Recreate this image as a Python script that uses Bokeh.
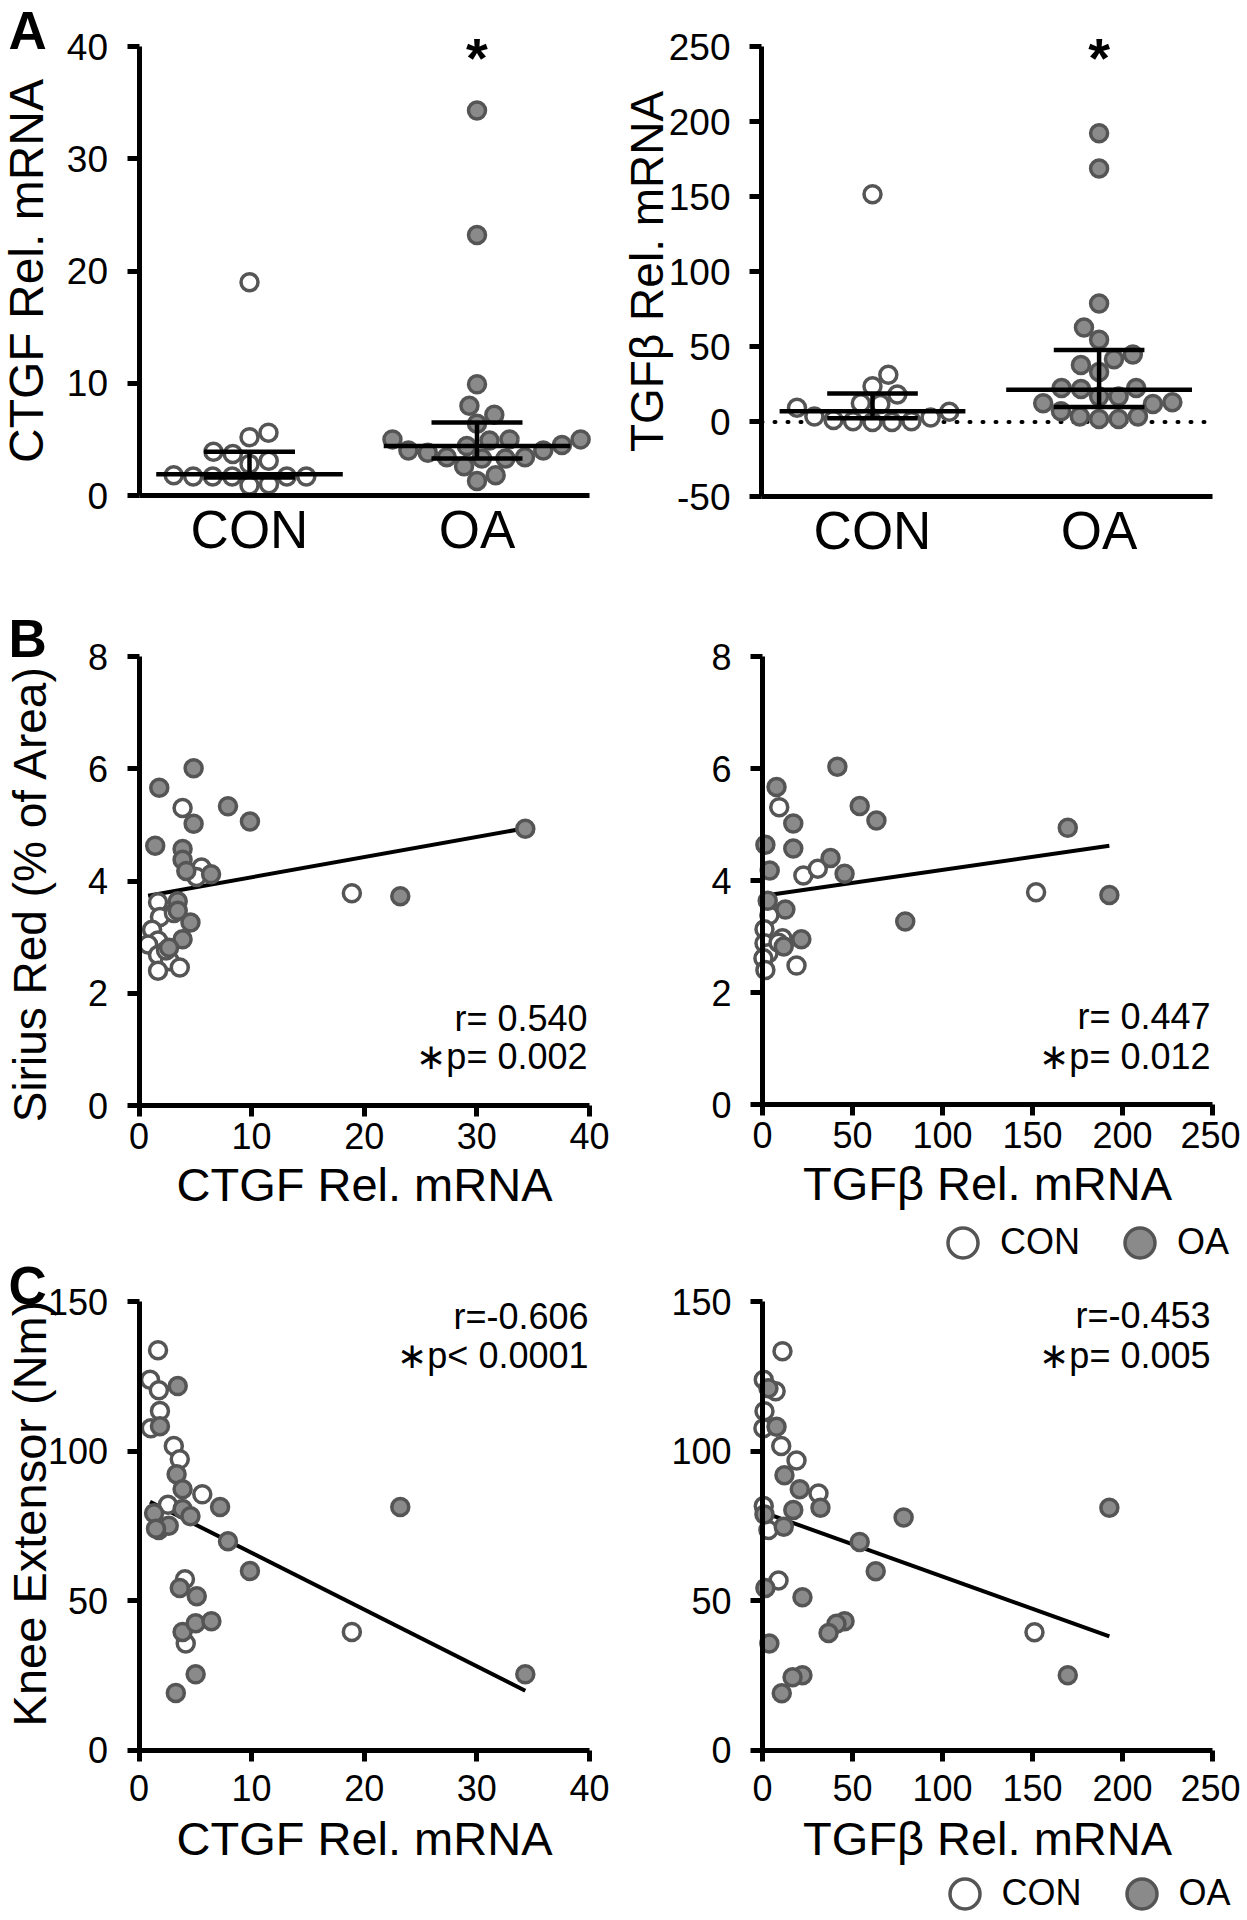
import numpy as np
from bokeh.plotting import figure
from bokeh.models import Range1d, FixedTicker, Label, Legend, LegendItem, LinearAxis
from bokeh.layouts import column, row
from bokeh.embed import file_html
from bokeh.resources import INLINE

# ---------------- data ----------------
categories = ["CON", "OA"]

# Panel A: relative mRNA per subject
con_ctgf = [2.8, 1.7, 1.7, 1.7, 5.6, 3.9, 0.9, 1.0, 3.7, 1.7, 5.2, 1.7, 1.8, 3.1, 19.0]
oa_ctgf = [34.3, 23.2, 9.9, 8.0, 7.2, 6.4, 5.0, 4.9, 5.0, 5.0, 4.5, 4.4, 4.0, 3.8, 4.0,
           3.4, 3.3, 3.3, 3.4, 2.6, 1.8, 1.3]
con_tgfb = [151.7, 31.4, 23.8, 18.3, 12.4, 11.9, 9.5, 6.7, 2.9, 0.5, 0.0, 0.0, 0.5, 1.2, 3.6]
oa_tgfb = [192.4, 169.0, 79.0, 63.0, 54.8, 45.0, 41.7, 33.3, 38.0, 22.6, 21.9, 22.6, 17.0,
           17.0, 12.4, 13.1, 11.9, 7.1, 3.6, 1.9, 1.9, 3.6]
# median and interquartile range, [CON, OA]
ctgf_median = [1.9, 4.4]
ctgf_q1 = [1.6, 3.3]
ctgf_q3 = [3.9, 6.5]
tgfb_median = [7.1, 21.4]
tgfb_q1 = [2.5, 10.0]
tgfb_q3 = [19.0, 48.0]

# Panel B: Sirius Red (% of area) vs mRNA
b1_con_x = [3.87, 5.55, 5.1, 1.69, 1.86, 1.16, 1.69, 0.81, 1.69, 2.74, 3.62, 1.69, 18.9, 3.1, 2.4]
b1_con_y = [5.30, 4.24, 4.07, 3.62, 3.36, 3.13, 2.94, 2.87, 2.68, 2.57, 2.46, 2.40, 3.78, 3.43, 2.76]
b1_oa_x = [1.8, 4.85, 7.9, 9.85, 4.85, 1.44, 3.87, 3.87, 4.2, 6.4, 3.44, 3.44, 4.57, 3.87, 2.67, 34.3, 23.2]
b1_oa_y = [5.66, 6.01, 5.33, 5.06, 5.02, 4.63, 4.57, 4.38, 4.18, 4.12, 3.64, 3.47, 3.26, 2.96, 2.81, 4.93, 3.73]
b1_fit = (3.708, 0.0359)  # intercept, slope
b1_stats = ["r= 0.540", "\u2217p= 0.002"]

b2_con_x = [9.3, 22.7, 30.7, 3.8, 1.1, 1.1, 11.1, 3.3, 0.5, 1.6, 18.9, 152.0, 8.9]
b2_con_y = [5.31, 4.09, 4.21, 3.38, 3.13, 2.88, 2.97, 2.70, 2.61, 2.40, 2.48, 3.79, 2.89]
b2_oa_x = [7.8, 41.6, 54.0, 63.3, 17.1, 1.6, 17.1, 4.0, 37.8, 45.6, 2.9, 12.7, 21.6, 11.8, 79.3, 169.6, 192.7]
b2_oa_y = [5.67, 6.03, 5.33, 5.07, 5.02, 4.64, 4.57, 4.18, 4.40, 4.12, 3.64, 3.48, 2.95, 2.82, 3.27, 4.94, 3.74]
b2_fit = (3.724, 0.00465)
b2_stats = ["r= 0.447", "\u2217p= 0.012"]

# Panel C: knee extensor torque (Nm) vs mRNA
c1_con_x = [1.69, 0.98, 1.76, 1.86, 1.05, 3.09, 3.62, 5.62, 2.57, 1.76, 4.08, 4.15, 18.9]
c1_con_y = [133.7, 123.8, 120.3, 113.4, 107.6, 101.7, 97.2, 85.5, 82.0, 73.6, 57.1, 35.6, 39.5]
c1_oa_x = [3.44, 1.86, 3.34, 3.87, 7.2, 23.2, 1.34, 3.87, 4.57, 2.64, 1.51, 7.9, 9.85, 3.62,
           5.13, 3.87, 5.03, 6.43, 5.03, 3.27, 34.3]
c1_oa_y = [121.7, 108.3, 92.2, 87.2, 81.3, 81.3, 79.2, 80.6, 78.2, 75.0, 74.0, 69.8, 59.9, 54.2,
           51.4, 39.5, 42.4, 43.1, 25.3, 19.1, 25.3]
c1_fit = (84.9, -1.898)
c1_stats = ["r=-0.606", "\u2217p< 0.0001"]

c2_con_x = [11.1, 0.7, 7.3, 1.1, 0.5, 10.4, 18.9, 31.1, 0.7, 3.3, 8.9, 151.1]
c2_con_y = [133.4, 123.8, 120.0, 113.3, 107.6, 101.7, 96.8, 85.8, 81.6, 73.6, 56.7, 39.4]
c2_oa_x = [3.3, 7.8, 12.2, 20.7, 32.2, 17.1, 1.1, 78.4, 11.8, 54.0, 62.9, 1.6, 22.2, 45.6,
           41.1, 36.7, 3.8, 22.2, 16.7, 10.7, 169.6, 192.7]
c2_oa_y = [121.0, 108.1, 91.9, 87.2, 81.0, 80.3, 78.8, 77.8, 74.7, 69.6, 59.8, 54.2, 51.1, 43.1,
           42.2, 39.1, 35.6, 25.0, 24.3, 19.0, 25.0, 81.0]
c2_fit = (79.6, -0.216)
c2_stats = ["r=-0.453", "\u2217p= 0.005"]

ctgf_ticks = [0, 10, 20, 30, 40]
tgfb_ticks_a = [-50, 0, 50, 100, 150, 200, 250]
tgfb_ticks = [0, 50, 100, 150, 200, 250]
sirius_ticks = [0, 2, 4, 6, 8]
knee_ticks = [0, 50, 100, 150]

# ---------------- layout / style ----------------
FONT = "Liberation Sans"
EDGE = "#555555"
GREY = "#8a8a8a"
MID = 0.32  # text middle sits this many em above the baseline
DOT = 17

# page-pixel boxes of the six figures
OUT = {
    "A1": (0, 0, 620, 600), "A2": (620, 0, 1240, 600),
    "B1": (0, 600, 620, 1248), "B2": (620, 600, 1240, 1282),
    "C1": (0, 1248, 620, 1918), "C2": (620, 1282, 1240, 1918),
}


class Panel:
    """A figure whose plotting frame fills the whole box; data -> page pixel maps given by two anchors."""

    def __init__(self, key, xmap, ymap):
        ox0, oy0, ox1, oy1 = OUT[key]
        self.ox0, self.oy0, self.ox1, self.oy1 = ox0, oy0, ox1, oy1
        a, pa, b, pb = xmap
        self.xppu = (pb - pa) / (b - a)
        self.xa, self.pxa = a, pa
        c, pc, d, pd = ymap
        self.yppu = (pc - pd) / (d - c)
        self.yc, self.pyc = c, pc
        xr = Range1d(self.dx(ox0), self.dx(ox1))
        yr = Range1d(self.dy(oy1), self.dy(oy0))
        p = figure(width=ox1 - ox0, height=oy1 - oy0, x_range=xr, y_range=yr,
                   x_axis_location=None, y_axis_location=None, min_border=0,
                   output_backend="svg", toolbar_location=None)
        p.title.visible = False
        p.outline_line_color = None
        p.background_fill_color = "white"
        p.border_fill_color = "white"
        for g in p.grid:
            g.visible = False
        self.p = p

    def dx(self, px):
        return self.xa + (px - self.pxa) / self.xppu

    def dy(self, py):
        return self.yc + (self.pyc - py) / self.yppu

    def text(self, px, base_py, txt, size_px, align="left", bold=False):
        lab = Label(x=px - self.ox0, y=self.oy1 - (base_py - MID * size_px),
                    x_units="screen", y_units="screen", text=txt, text_font=FONT,
                    text_font_size=f"{size_px}px", text_align=align, text_baseline="middle",
                    text_color="black", text_font_style="bold" if bold else "normal")
        self.p.add_layout(lab)

    def vtext(self, base_px, center_py, txt, size_px):
        # text reading bottom-to-top; base_px is the page x of its baseline
        lab = Label(x=base_px - MID * size_px - self.ox0, y=self.oy1 - center_py,
                    x_units="screen", y_units="screen", text=txt, text_font=FONT,
                    text_font_size=f"{size_px}px", text_align="center", text_baseline="middle",
                    angle=np.pi / 2, text_color="black")
        self.p.add_layout(lab)


def style_axis(ax, size, tick_out, standoff):
    ax.axis_line_width = 5
    ax.axis_line_color = "black"
    ax.major_tick_line_width = 5
    ax.major_tick_line_color = "black"
    ax.major_tick_out = tick_out
    ax.major_tick_in = 0
    ax.minor_tick_line_color = None
    ax.major_label_text_font = FONT
    ax.major_label_text_font_size = size
    ax.major_label_text_color = "black"
    ax.major_label_standoff = standoff


def axis_title(ax, text, size, standoff):
    ax.axis_label = text
    ax.axis_label_text_font = FONT
    ax.axis_label_text_font_size = size
    ax.axis_label_text_font_style = "normal"
    ax.axis_label_text_color = "black"
    ax.axis_label_standoff = standoff


def swarm_offsets(vals, y_ppu, x_ppu, diam):
    vals = np.asarray(vals, float)
    order = np.argsort(vals, kind="stable")
    placed = []
    offs = np.zeros(len(vals))
    for k, i in enumerate(order):
        y = vals[i] * y_ppu
        cands = [0.0]
        for (qx, qy) in placed:
            dy = abs(qy - y)
            if dy < diam:
                dx = np.sqrt(diam * diam - dy * dy)
                cands.extend([qx - dx, qx + dx])
        sgn = 1 if k % 2 == 0 else -1
        cands.sort(key=lambda c: (round(abs(c), 6), sgn * c))
        for c in cands:
            if all((c - qx) ** 2 + (y - qy) ** 2 >= diam * diam - 1e-6 for qx, qy in placed):
                placed.append((c, y))
                offs[i] = c / x_ppu
                break
    return offs


def dot_panel(key, con, oa, med, q1, q3, yticks, ylabel, title_size, title_standoff,
              letter, cat_px, ymap, axis_px, star_py):
    P = Panel(key, (1, cat_px[0], 2, cat_px[1]), ymap)
    p = P.p
    x_lo, x_hi = P.dx(axis_px[0]), P.dx(axis_px[1])
    if yticks[0] < 0:
        p.line([x_lo, x_hi], [0, 0], line_color="black", line_width=4,
               line_dash="1 12", line_cap="round")
    for i, (vals, fill) in enumerate([(con, "white"), (oa, GREY)]):
        xs = (i + 1) + swarm_offsets(vals, P.yppu, P.xppu, 19.5)
        p.scatter(xs, vals, marker="circle", size=DOT, fill_color=fill, line_color=EDGE, line_width=3.5)
    xc = np.array([1.0, 2.0])
    for y0, y1, hw in [(med, med, 0.41), (q1, q1, 0.2), (q3, q3, 0.2)]:
        p.segment(xc - hw, y0, xc + hw, y1, line_color="black", line_width=4.5)
    p.segment(xc, q1, xc, q3, line_color="black", line_width=4.5)

    xax = LinearAxis(fixed_location=yticks[0], bounds=(x_lo, x_hi),
                     ticker=FixedTicker(ticks=[1, 2]),
                     major_label_overrides={1: categories[0], 2: categories[1]})
    style_axis(xax, "53px", 0, 4)
    xax.major_tick_line_color = None
    p.add_layout(xax, "below")
    overrides = {t: str(t) for t in yticks}
    yax = LinearAxis(fixed_location=x_lo, bounds=(yticks[0], yticks[-1]),
                     ticker=FixedTicker(ticks=yticks), major_label_overrides=overrides)
    style_axis(yax, "37px", 12, 19)
    axis_title(yax, ylabel, title_size, title_standoff)
    p.add_layout(yax, "left")

    if letter:
        P.text(8, 47, letter, 53, bold=True)
    # significance marker above OA
    star = Label(x=2, y=P.oy1 - star_py, x_units="data", y_units="screen", text="*",
                 text_font=FONT, text_font_size="56px", text_align="center", text_font_style="bold",
                 text_baseline="middle", text_color="black")
    p.add_layout(star)
    return p


def scatter_panel(key, xmap, ymap, xticks, yticks, con_x, con_y, oa_x, oa_y, fit, stats,
                  xlabel, ytitle=None, letter=None, letter_base=None,
                  stats_px=None, tick_pad=0, title_pad=2, legend_px=None):
    P = Panel(key, xmap, ymap)
    p = P.p
    allx = np.array(con_x + oa_x)
    xs = np.array([allx.min(), allx.max()])
    p.line(xs, fit[0] + fit[1] * xs, line_color="black", line_width=4)
    r_con = p.scatter(con_x, con_y, marker="circle", size=DOT, fill_color="white",
                      line_color=EDGE, line_width=3.5)
    r_oa = p.scatter(oa_x, oa_y, marker="circle", size=DOT, fill_color=GREY,
                     line_color=EDGE, line_width=3.5)

    xax = LinearAxis(fixed_location=0, bounds=(xticks[0], xticks[-1]), ticker=FixedTicker(ticks=xticks))
    style_axis(xax, "36px", 11, tick_pad)
    axis_title(xax, xlabel, "47px", title_pad)
    p.add_layout(xax, "below")
    yax = LinearAxis(fixed_location=0, bounds=(yticks[0], yticks[-1]), ticker=FixedTicker(ticks=yticks))
    style_axis(yax, "36px", 12, 19)
    if ytitle:
        text, size, base_px, center_py = ytitle
        P.vtext(base_px, center_py, text, size)
    p.add_layout(yax, "left")

    if letter:
        P.text(8, letter_base, letter, 53, bold=True)
    rx, b1, b2 = stats_px
    P.text(rx, b1, stats[0], 36, align="right")
    P.text(rx, b2, stats[1], 36, align="right")

    if legend_px:
        cx, cy = legend_px
        gsz = 75
        legend = Legend(items=[LegendItem(label=categories[0], renderers=[r_con]),
                               LegendItem(label=categories[1], renderers=[r_oa])],
                        location=(cx - gsz / 2 - P.ox0, P.oy1 - (cy + gsz / 2)),
                        orientation="horizontal", glyph_width=gsz, glyph_height=gsz,
                        label_standoff=-7, spacing=22, padding=0, margin=0,
                        label_text_font=FONT, label_text_font_size="36px",
                        label_text_color="black",
                        border_line_alpha=0, background_fill_alpha=0)
        p.add_layout(legend)
    return p


pA1 = dot_panel("A1", con_ctgf, oa_ctgf, ctgf_median, ctgf_q1, ctgf_q3, ctgf_ticks,
                "CTGF Rel. mRNA", "48px", 11, "A", (249, 476.5), (0, 495, 40, 46),
                (138.5, 589), 57)
pA2 = dot_panel("A2", con_tgfb, oa_tgfb, tgfb_median, tgfb_q1, tgfb_q3, tgfb_ticks_a,
                "TGF\u03b2 Rel. mRNA", "46px", -7, None, (872, 1098.6), (-50, 496.4, 250, 46.4),
                (761, 1212), 57)

pB1 = scatter_panel("B1", (0, 138.5, 40, 589), (0, 1105, 8, 656), ctgf_ticks, sirius_ticks,
                    b1_con_x, b1_con_y, b1_oa_x, b1_oa_y, b1_fit, b1_stats, "CTGF Rel. mRNA",
                    ("Sirius Red (% of Area)", 46, 44, 893), "B", 655, (587, 1029.5, 1068),
                    tick_pad=6, title_pad=6)
pB2 = scatter_panel("B2", (0, 762, 250, 1212), (0, 1104, 8, 656), tgfb_ticks, sirius_ticks,
                    b2_con_x, b2_con_y, b2_oa_x, b2_oa_y, b2_fit, b2_stats, "TGF\u03b2 Rel. mRNA",
                    stats_px=(1210, 1028, 1068), tick_pad=6, title_pad=6, legend_px=(962.5, 1242))
pC1 = scatter_panel("C1", (0, 138.5, 40, 589), (0, 1749.5, 150, 1301), ctgf_ticks, knee_ticks,
                    c1_con_x, c1_con_y, c1_oa_x, c1_oa_y, c1_fit, c1_stats, "CTGF Rel. mRNA",
                    ("Knee Extensor (Nm)", 47, 44, 1513), "C", 1302, (588, 1328, 1367),
                    tick_pad=14, title_pad=7)
pC2 = scatter_panel("C2", (0, 762, 250, 1212), (0, 1749.5, 150, 1301), tgfb_ticks, knee_ticks,
                    c2_con_x, c2_con_y, c2_oa_x, c2_oa_y, c2_fit, c2_stats, "TGF\u03b2 Rel. mRNA",
                    stats_px=(1210, 1327, 1367), tick_pad=14, title_pad=7, legend_px=(964, 1893))

layout = row(column(pA1, pB1, pC1), column(pA2, pB2, pC2))
open("out.html", "w").write(file_html(layout, INLINE))
